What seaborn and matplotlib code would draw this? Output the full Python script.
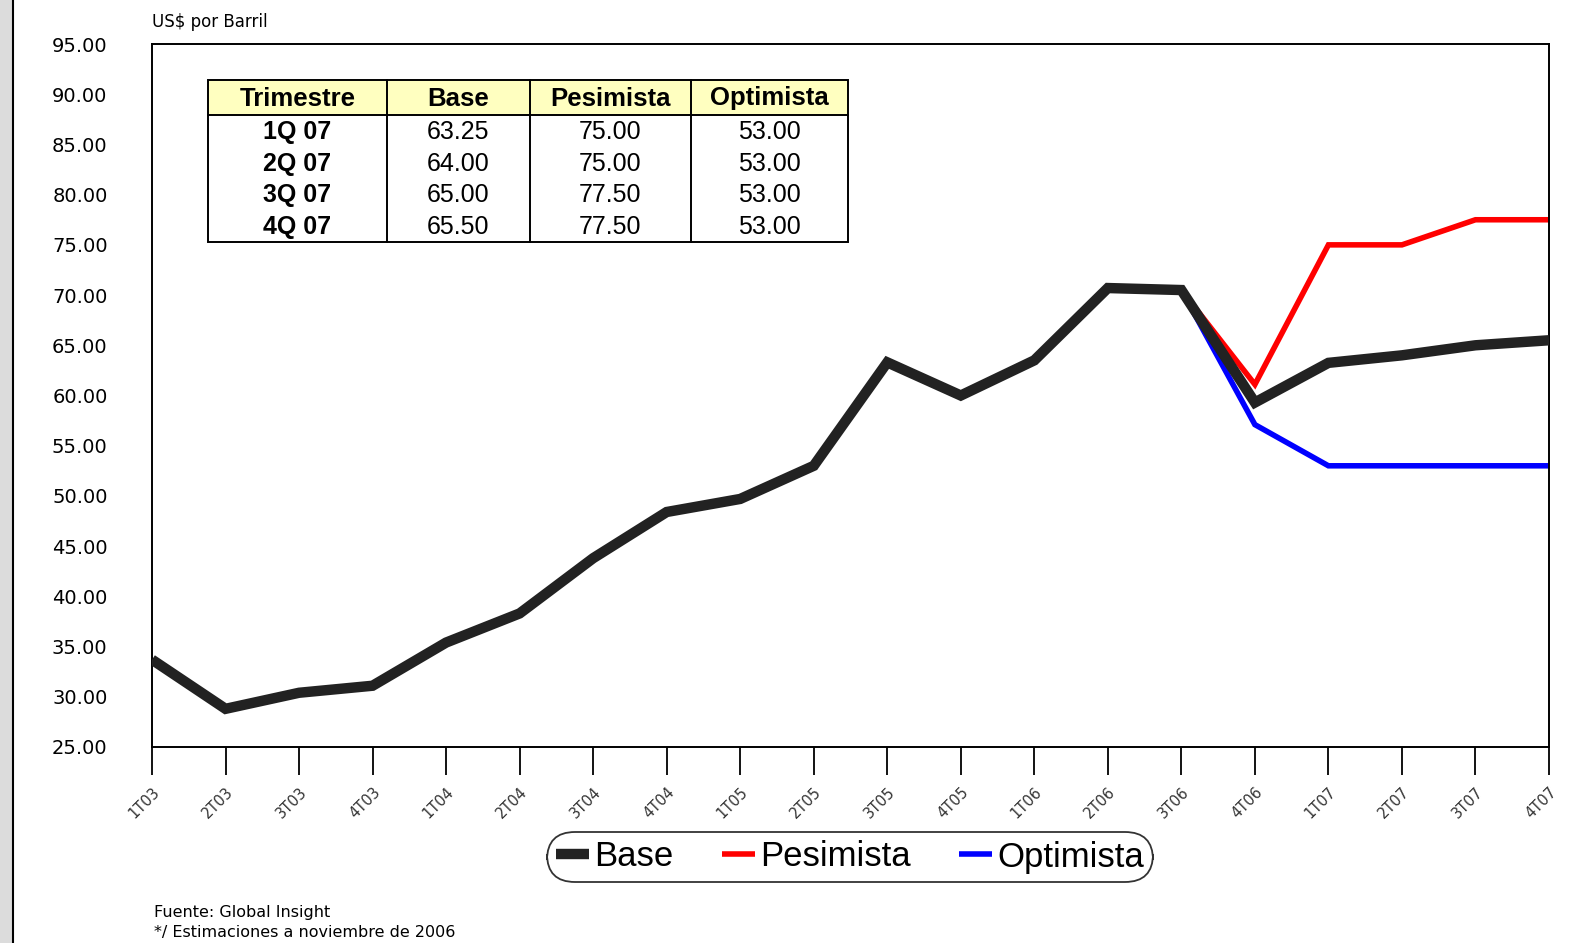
import matplotlib
matplotlib.use("Agg")
import matplotlib.pyplot as plt
from matplotlib.patches import Rectangle
import seaborn as sns
import pandas as pd

# Quarters on the x axis
quarters = ["1T03", "2T03", "3T03", "4T03", "1T04", "2T04", "3T04", "4T04",
            "1T05", "2T05", "3T05", "4T05", "1T06", "2T06", "3T06", "4T06",
            "1T07", "2T07", "3T07", "4T07"]

# Oil price scenarios (US$ per barrel)
base = [33.7, 28.8, 30.4, 31.1, 35.4, 38.3, 43.8, 48.4, 49.7, 53.0,
        63.3, 60.0, 63.5, 70.7, 70.5, 59.3, 63.25, 64.00, 65.00, 65.50]
pesimista = [70.5, 61.1, 75.00, 75.00, 77.50, 77.50]   # from 3T06 onwards
optimista = [70.5, 57.1, 53.00, 53.00, 53.00, 53.00]   # from 3T06 onwards
scenario_start = 14

# Forecast table
table_cols = ["Trimestre", "Base", "Pesimista", "Optimista"]
table_rows = ["1Q 07", "2Q 07", "3Q 07", "4Q 07"]
table_base = ["63.25", "64.00", "65.00", "65.50"]
table_pes = ["75.00", "75.00", "77.50", "77.50"]
table_opt = ["53.00", "53.00", "53.00", "53.00"]

yticks = [25, 30, 35, 40, 45, 50, 55, 60, 65, 70, 75, 80, 85, 90, 95]

sns.set_style("white")
plt.rcParams["font.family"] = ["DejaVu Sans"]
plt.rcParams["text.color"] = "black"
plt.rcParams["xtick.color"] = "black"
plt.rcParams["ytick.color"] = "black"

df_base = pd.DataFrame({"x": range(len(quarters)), "y": base})
n_sc = len(pesimista)
df_pes = pd.DataFrame({"x": range(scenario_start, scenario_start + n_sc), "y": pesimista})
df_opt = pd.DataFrame({"x": range(scenario_start, scenario_start + n_sc), "y": optimista})

fig = plt.figure(figsize=(15.93, 9.43), dpi=100)
fig.patch.set_facecolor("white")

# textured side strip on the far left
fig.add_artist(Rectangle((0, 0), 12 / 1593, 1, transform=fig.transFigure,
                         facecolor="#dcdcdc", edgecolor="none", zorder=0))
fig.add_artist(plt.Line2D([13 / 1593, 13 / 1593], [0, 1], transform=fig.transFigure,
                          color="black", lw=1.5))

ax = fig.add_axes([152 / 1593, 1 - 747 / 943, 1397 / 1593, 703 / 943])

sns.lineplot(data=df_pes, x="x", y="y", ax=ax, color="#ff0000", lw=4,
             label="Pesimista", zorder=2)
sns.lineplot(data=df_opt, x="x", y="y", ax=ax, color="#0000ff", lw=4,
             label="Optimista", zorder=2)
sns.lineplot(data=df_base, x="x", y="y", ax=ax, color="#222222", lw=7.5,
             label="Base", zorder=3)
for line in ax.get_lines():
    line.set_solid_joinstyle("miter")
    line.set_solid_capstyle("butt")

ax.set_xlim(0, len(quarters) - 1)
ax.set_ylim(25, 95)
ax.set_yticks(yticks)
ax.set_yticklabels([f"{v:.2f}" for v in yticks], fontsize=14)
ax.set_xticks(range(len(quarters)))
ax.set_xticklabels(quarters, rotation=45, ha="right", va="top",
                   rotation_mode="anchor", fontsize=10.5, color="#333333")
ax.tick_params(axis="x", bottom=True, length=20, width=1.3, color="black",
               direction="out", pad=7)
ax.tick_params(axis="y", left=False, length=0, pad=32)
ax.set_xlabel("")
ax.set_ylabel("")
for sp in ax.spines.values():
    sp.set_color("black")
    sp.set_linewidth(1.4)

# Legend with rounded frame below the plot
handles, labels = ax.get_legend_handles_labels()
order = [labels.index(n) for n in ["Base", "Pesimista", "Optimista"]]
leg = ax.legend([handles[i] for i in order], [labels[i] for i in order],
                loc="center", bbox_to_anchor=(850 / 1593, 1 - 857 / 943),
                bbox_transform=fig.transFigure, ncol=3, frameon=True,
                fancybox=True, edgecolor="black", handlelength=0.95,
                handletextpad=0.15, columnspacing=1.4, borderpad=0.25,
                prop={"family": "Liberation Sans", "size": 25})
leg.get_frame().set_linewidth(1.3)
leg.get_frame().set_boxstyle("round", pad=0.0, rounding_size=0.8)
for lh in leg.get_lines():
    lh.set_solid_capstyle("butt")
for t in leg.get_texts():
    t.set_color("black")

# Forecast table inside the plot
col_w = [179, 143, 161, 157]
x0 = 208
total_w = sum(col_w)
ax_w, ax_h = 1397, 703
ax_left, ax_top = 152, 44
top_px, head_px, row_px = 80, 35, 31.75


def ax_xy(px, py):
    return (px - ax_left) / ax_w, 1 - (py - ax_top) / ax_h


# header background
hx, hy = ax_xy(x0, top_px + head_px)
ax.add_patch(Rectangle((hx, hy), total_w / ax_w, head_px / ax_h, transform=ax.transAxes,
                       facecolor="#ffffc0", edgecolor="none", zorder=4))
# body background
bx, by = ax_xy(x0, top_px + head_px + 4 * row_px)
ax.add_patch(Rectangle((bx, by), total_w / ax_w, 4 * row_px / ax_h, transform=ax.transAxes,
                       facecolor="white", edgecolor="none", zorder=4))
# outer frame
ox, oy = ax_xy(x0, top_px + head_px + 4 * row_px)
ax.add_patch(Rectangle((ox, oy), total_w / ax_w, (head_px + 4 * row_px) / ax_h,
                       transform=ax.transAxes, facecolor="none", edgecolor="black",
                       lw=1.4, zorder=6))
# header separator
ya = ax_xy(0, top_px + head_px)[1]
ax.plot([hx, hx + total_w / ax_w], [ya, ya], transform=ax.transAxes,
        color="black", lw=1.4, zorder=6)
# column separators
cx = x0
for w in col_w[:-1]:
    cx += w
    xa = ax_xy(cx, 0)[0]
    ax.plot([xa, xa], [oy, oy + (head_px + 4 * row_px) / ax_h], transform=ax.transAxes,
            color="black", lw=1.4, zorder=6)

# texts
centers = []
cx = x0
for w in col_w:
    centers.append(cx + w / 2)
    cx += w
for name, c in zip(table_cols, centers):
    tx, ty = ax_xy(c, top_px + head_px / 2 + 1)
    ax.text(tx, ty, name, transform=ax.transAxes, ha="center", va="center",
            fontsize=18.5, fontweight="bold", family="Liberation Sans", zorder=7)
columns = [table_rows, table_base, table_pes, table_opt]
for ci, (vals, c) in enumerate(zip(columns, centers)):
    for ri, v in enumerate(vals):
        tx, ty = ax_xy(c, top_px + head_px + row_px * (ri + 0.5) + 1)
        ax.text(tx, ty, v, transform=ax.transAxes, ha="center", va="center",
                fontsize=18, fontweight="bold" if ci == 0 else "normal",
                family="Liberation Sans", zorder=7)

# Titles and notes
fig.text(152 / 1593, 1 - 22 / 943, "US$ por Barril", fontsize=12, va="center", ha="left")
fig.text(154 / 1593, 1 - 912 / 943, "Fuente: Global Insight", fontsize=11.5,
         va="center", ha="left")
fig.text(154 / 1593, 1 - 933 / 943, "*/ Estimaciones a noviembre de 2006", fontsize=11.5,
         va="center", ha="left")

fig.savefig("out.png", dpi=100)
